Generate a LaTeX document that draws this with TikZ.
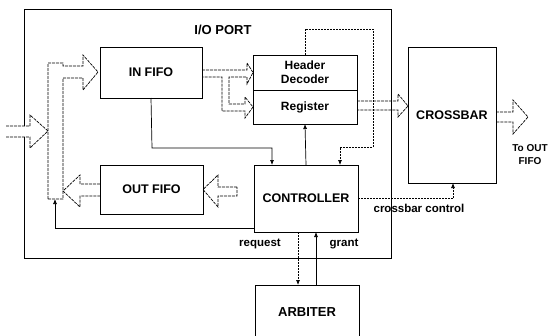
\documentclass[tikz,border=0pt]{standalone}
\usepackage{fontspec}
\setmainfont{Liberation Sans}
\usetikzlibrary{arrows.meta}
\begin{document}
\begin{tikzpicture}[x=1pt,y=-1pt,
  box/.style={draw, line width=0.7pt, inner sep=0pt, outer sep=0pt, align=center,
    font=\bfseries\fontsize{12.5}{14}\selectfont},
  lbl/.style={inner sep=0pt, align=center, font=\bfseries\fontsize{11.5}{13}\selectfont},
  solidc/.style={line width=0.7pt, -{Latex[length=5pt,width=4pt]}},
  dotc/.style={line width=0.7pt, dash pattern=on 2pt off 1pt, -{Latex[length=5pt,width=4pt]}},
  hollow/.style={line width=0.7pt, dash pattern=on 3pt off 1pt, line join=miter},
  frame/.style={line width=0.7pt}
]
\useasboundingbox (0,0) rectangle (549,335);
\clip (0,0) rectangle (549,335);

% outer I/O port frame (gap on the left for the input arrow)
\coordinate (ioA) at (24,126);
\coordinate (ioB) at (24,137);
\draw[frame] (ioA) -- (24,9) -- (391,9) -- (391,258) -- (24,258) -- (ioB);
\node[lbl, font=\bfseries\fontsize{13}{15}\selectfont] (io) at (223,30) {I/O PORT};

% boxes
\node[box, minimum width=102pt, minimum height=51pt] (infifo) at (151,72.5) {IN FIFO};
\node[box, minimum width=103pt, minimum height=49pt] (outfifo) at (151.5,189.5) {OUT FIFO};
\node[box, minimum width=104pt, minimum height=35pt, font=\bfseries\fontsize{12}{14}\selectfont] (hdr) at (305,72.5) {Header\\Decoder};
\node[box, minimum width=104pt, minimum height=34pt, font=\bfseries\fontsize{12}{14}\selectfont] (reg) at (305,107) {Register};
\node[box, minimum width=88pt, minimum height=136pt] (xbar) at (452,115) {CROSSBAR};
\node[box, minimum width=104pt, minimum height=67pt] (ctrl) at (306,198.5) {CONTROLLER};
\node[box, minimum width=104pt, minimum height=54pt, font=\bfseries\fontsize{13}{15}\selectfont] (arb) at (307,312) {ARBITER};

% hollow (bus) arrows
% input arrow from the left
\draw[hollow] (6,126) -- (30,126) -- (30,115) -- (48,131) -- (30,148) -- (30,137) -- (6,137);
% bus with arrow into IN FIFO
\draw[hollow] (48,199) -- (48,63) -- (63,63) -- (63,66) -- (83,66) -- (83,55) -- (98,72)
   -- (83,90) -- (83,78) -- (63,78) -- (63,199) -- cycle;
% OUT FIFO to bus
\draw[hollow] (outfifo.west |- 0,184) -- (80,184) -- (80,175) -- (63,191) -- (80,207) -- (80,196) -- (outfifo.west |- 0,196);
% into OUT FIFO from the right
\draw[hollow] (237,187) -- (218,187) -- (218,175) -- (outfifo.east) -- (218,207) -- (218,196) -- (237,196) -- cycle;
% IN FIFO to header decoder and register
\draw[hollow] (infifo.east |- 0,70) -- (247,70) -- (247,63) -- (hdr.west) -- (247,84) -- (247,77)
   -- (229,77) -- (229,104) -- (245,104) -- (245,97) -- (reg.west) -- (245,118) -- (245,111)
   -- (222,111) -- (222,77) -- (infifo.east |- 0,77);
% register to crossbar
\draw[hollow] (reg.east |- 0,101) -- (398,101) -- (398,94) -- (xbar.west |- 0,106) -- (398,117) -- (398,110) -- (reg.east |- 0,110);
% crossbar output
\draw[hollow] (xbar.east |- 0,112) -- (513,112) -- (513,100) -- (528,117) -- (513,134) -- (513,122) -- (xbar.east |- 0,122);
\node[lbl, font=\bfseries\fontsize{10}{13}\selectfont] (toout) at (530,155) {To OUT\\FIFO};

% control connectors
\coordinate (busbot) at (55,199);
\draw[solidc] (infifo.south) -- (152,148) -| (ctrl.north -| 272,0);
\draw[dotc] (hdr.north) -- (305,29) -- (373,29) -- (373,147) -| (ctrl.north -| 340,0);
\draw[solidc] (ctrl.north) -- (reg.south);
\draw[solidc] (ctrl.west |- 0,228) -| (busbot);
\draw[dotc] (ctrl.east) -| (xbar.south -| 453,0);
\node[lbl] (xctl) at (419,208) {crossbar control};
\draw[dotc] (ctrl.south -| 298,0) -- (arb.north -| 298,0);
\draw[solidc] (arb.north -| 316,0) -- (ctrl.south -| 316,0);
\node[lbl] (req) at (260,244) {request};
\node[lbl] (gr) at (344,244) {grant};
\end{tikzpicture}
\end{document}
